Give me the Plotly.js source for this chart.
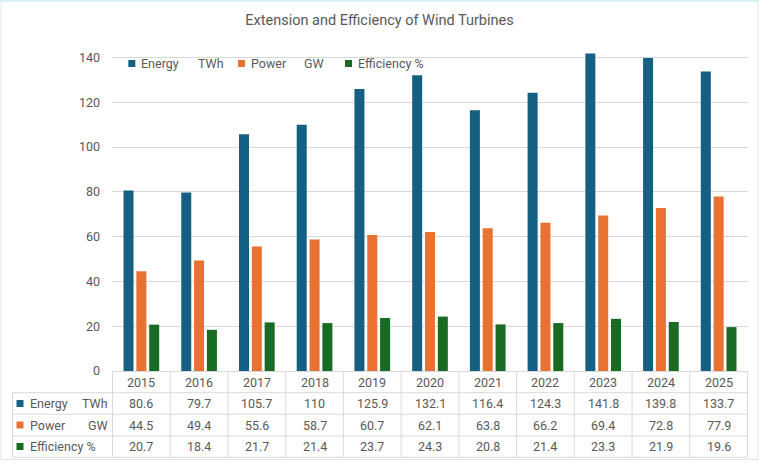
<!DOCTYPE html>
<html><head><meta charset="utf-8">
<script src="https://cdn.plot.ly/plotly-3.0.1.min.js"></script>
<style>html,body{margin:0;padding:0;background:#fff}#chart{width:759px;height:463px}</style>
</head><body><div id="chart"></div>
<script>
const years = ['2015','2016','2017','2018','2019','2020','2021','2022','2023','2024','2025'];
const energy = [80.6,79.7,105.7,110,125.9,132.1,116.4,124.3,141.8,139.8,133.7];
const power = [44.5,49.4,55.6,58.7,60.7,62.1,63.8,66.2,69.4,72.8,77.9];
const efficiency = [20.7,18.4,21.7,21.4,23.7,24.3,20.8,21.4,23.3,21.9,19.6];
const seriesLabels = ['Energy','Power','Efficiency %'];
const seriesUnits = ['TWh','GW',''];
const colors = ['#156082','#E97132','#196B24'];
const yTicks = [0,20,40,60,80,100,120,140];
const title = 'Extension and Efficiency of Wind Turbines';

const FONT = 'Roboto, "Liberation Sans", Arial, sans-serif';
const TXT = '#595959';
const GRID = '#d9d9d9';
const W = 759, H = 463, L = 112, R = 748, T = 45, B = 371;
const plotW = R - L, plotH = B - T;
const yMax = 140 * plotH / (B - 57.5);
const px = x => (x - L) / plotW;
const py = y => (B - y) / plotH;

const series = [energy, power, efficiency];
const data = series.map((vals, s) => ({
  type: 'bar', x: years, y: vals,
  name: seriesLabels[s] + (seriesUnits[s] ? '\u00a0\u00a0\u00a0\u00a0\u00a0' + seriesUnits[s] : ''),
  marker: {color: colors[s]}, hoverinfo: 'x+y+name'
}));

const shapes = [];
const annotations = [];
const f = (size) => ({family: FONT, size: size, color: TXT});

// table lines
const rowLines = [392.7, 414.3, 436, 457.3];
const rowCenters = [382, 403.5, 425, 446.5];
rowLines.forEach(y => shapes.push({type:'line', xref:'paper', yref:'paper', x0:px(12.5), x1:px(R), y0:py(y), y1:py(y), line:{color:GRID, width:1}}));
for (let k = 0; k <= years.length; k++) {
  shapes.push({type:'line', xref:'x', yref:'paper', x0:k - 0.5, x1:k - 0.5, y0:py(B), y1:py(457.3), line:{color:GRID, width:1}});
}
shapes.push({type:'line', xref:'paper', yref:'paper', x0:px(12.5), x1:px(12.5), y0:py(392.7), y1:py(457.3), line:{color:GRID, width:1}});
// chart border
shapes.push({type:'rect', xref:'paper', yref:'paper', x0:px(1), x1:px(758), y0:py(1), y1:py(459.5), line:{color:'#e3e3e3', width:1}, layer:'below'});
shapes.push({type:'line', xref:'paper', yref:'paper', x0:px(0), x1:px(759), y0:py(0.8), y1:py(0.8), line:{color:'#d6eff3', width:2}});

// year header
years.forEach((yr, i) => annotations.push({xref:'x', x:i, yref:'paper', y:py(rowCenters[0]), text:yr, showarrow:false, font:f(12.5), xanchor:'center', yanchor:'middle'}));
// values
series.forEach((vals, s) => {
  vals.forEach((v, i) => annotations.push({xref:'x', x:i, yref:'paper', y:py(rowCenters[s+1]), text:String(v), showarrow:false, font:f(12.5), xanchor:'center', yanchor:'middle'}));
  // row key
  const cy = rowCenters[s+1];
  shapes.push({type:'rect', xref:'paper', yref:'paper', x0:px(16.5), x1:px(23.5), y0:py(cy - 3.5), y1:py(cy + 3.5), fillcolor:colors[s], line:{width:0}});
  annotations.push({xref:'paper', x:px(28), yref:'paper', y:py(cy), text:seriesLabels[s], showarrow:false, font:f(12.5), xanchor:'left', yanchor:'middle'});
  if (seriesUnits[s]) annotations.push({xref:'paper', x:px(110), yref:'paper', y:py(cy), text:seriesUnits[s], showarrow:false, font:f(12.5), xanchor:'right', yanchor:'middle'});
});

// legend (top)
const legSq = [128.3, 238, 345];
const legUnitX = [197, 303];
series.forEach((vals, s) => {
  const cy = 63.5;
  shapes.push({type:'rect', xref:'paper', yref:'paper', x0:px(legSq[s]), x1:px(legSq[s] + 7), y0:py(cy - 3.5), y1:py(cy + 3.5), fillcolor:colors[s], line:{width:0}});
  annotations.push({xref:'paper', x:px(legSq[s] + 11), yref:'paper', y:py(cy), text:seriesLabels[s], showarrow:false, font:f(12.5), xanchor:'left', yanchor:'middle'});
  if (seriesUnits[s]) annotations.push({xref:'paper', x:px(legUnitX[s] - 1), yref:'paper', y:py(cy), text:seriesUnits[s], showarrow:false, font:f(12.5), xanchor:'left', yanchor:'middle'});
});

const layout = {
  width: W, height: H,
  margin: {l: L, r: W - R, t: T, b: H - B, pad: 0},
  paper_bgcolor: '#ffffff', plot_bgcolor: '#ffffff',
  font: {family: FONT, size: 12.5, color: TXT},
  title: {text: title, x: 0.5, xref: 'container', xanchor: 'center', y: 1 - 19.5 / H, yref: 'container', yanchor: 'middle', font: {family: FONT, size: 14.5, color: TXT}},
  showlegend: false,
  barmode: 'group', bargap: 0.333, bargroupgap: 0.22,
  xaxis: {type: 'category', showticklabels: false, ticks: '', showgrid: false, showline: true, linecolor: GRID, linewidth: 1, zeroline: false, fixedrange: true},
  yaxis: {range: [0, yMax], tickmode: 'array', tickvals: yTicks, ticktext: yTicks.map(String), showgrid: true, gridcolor: GRID, gridwidth: 1, zeroline: false, showline: false, ticks: '', ticklabelstandoff: 11, tickfont: {family: FONT, size: 12.5, color: TXT}, fixedrange: true},
  shapes: shapes,
  annotations: annotations
};
Plotly.newPlot('chart', data, layout, {displayModeBar: false, staticPlot: true});
</script>
</body></html>
